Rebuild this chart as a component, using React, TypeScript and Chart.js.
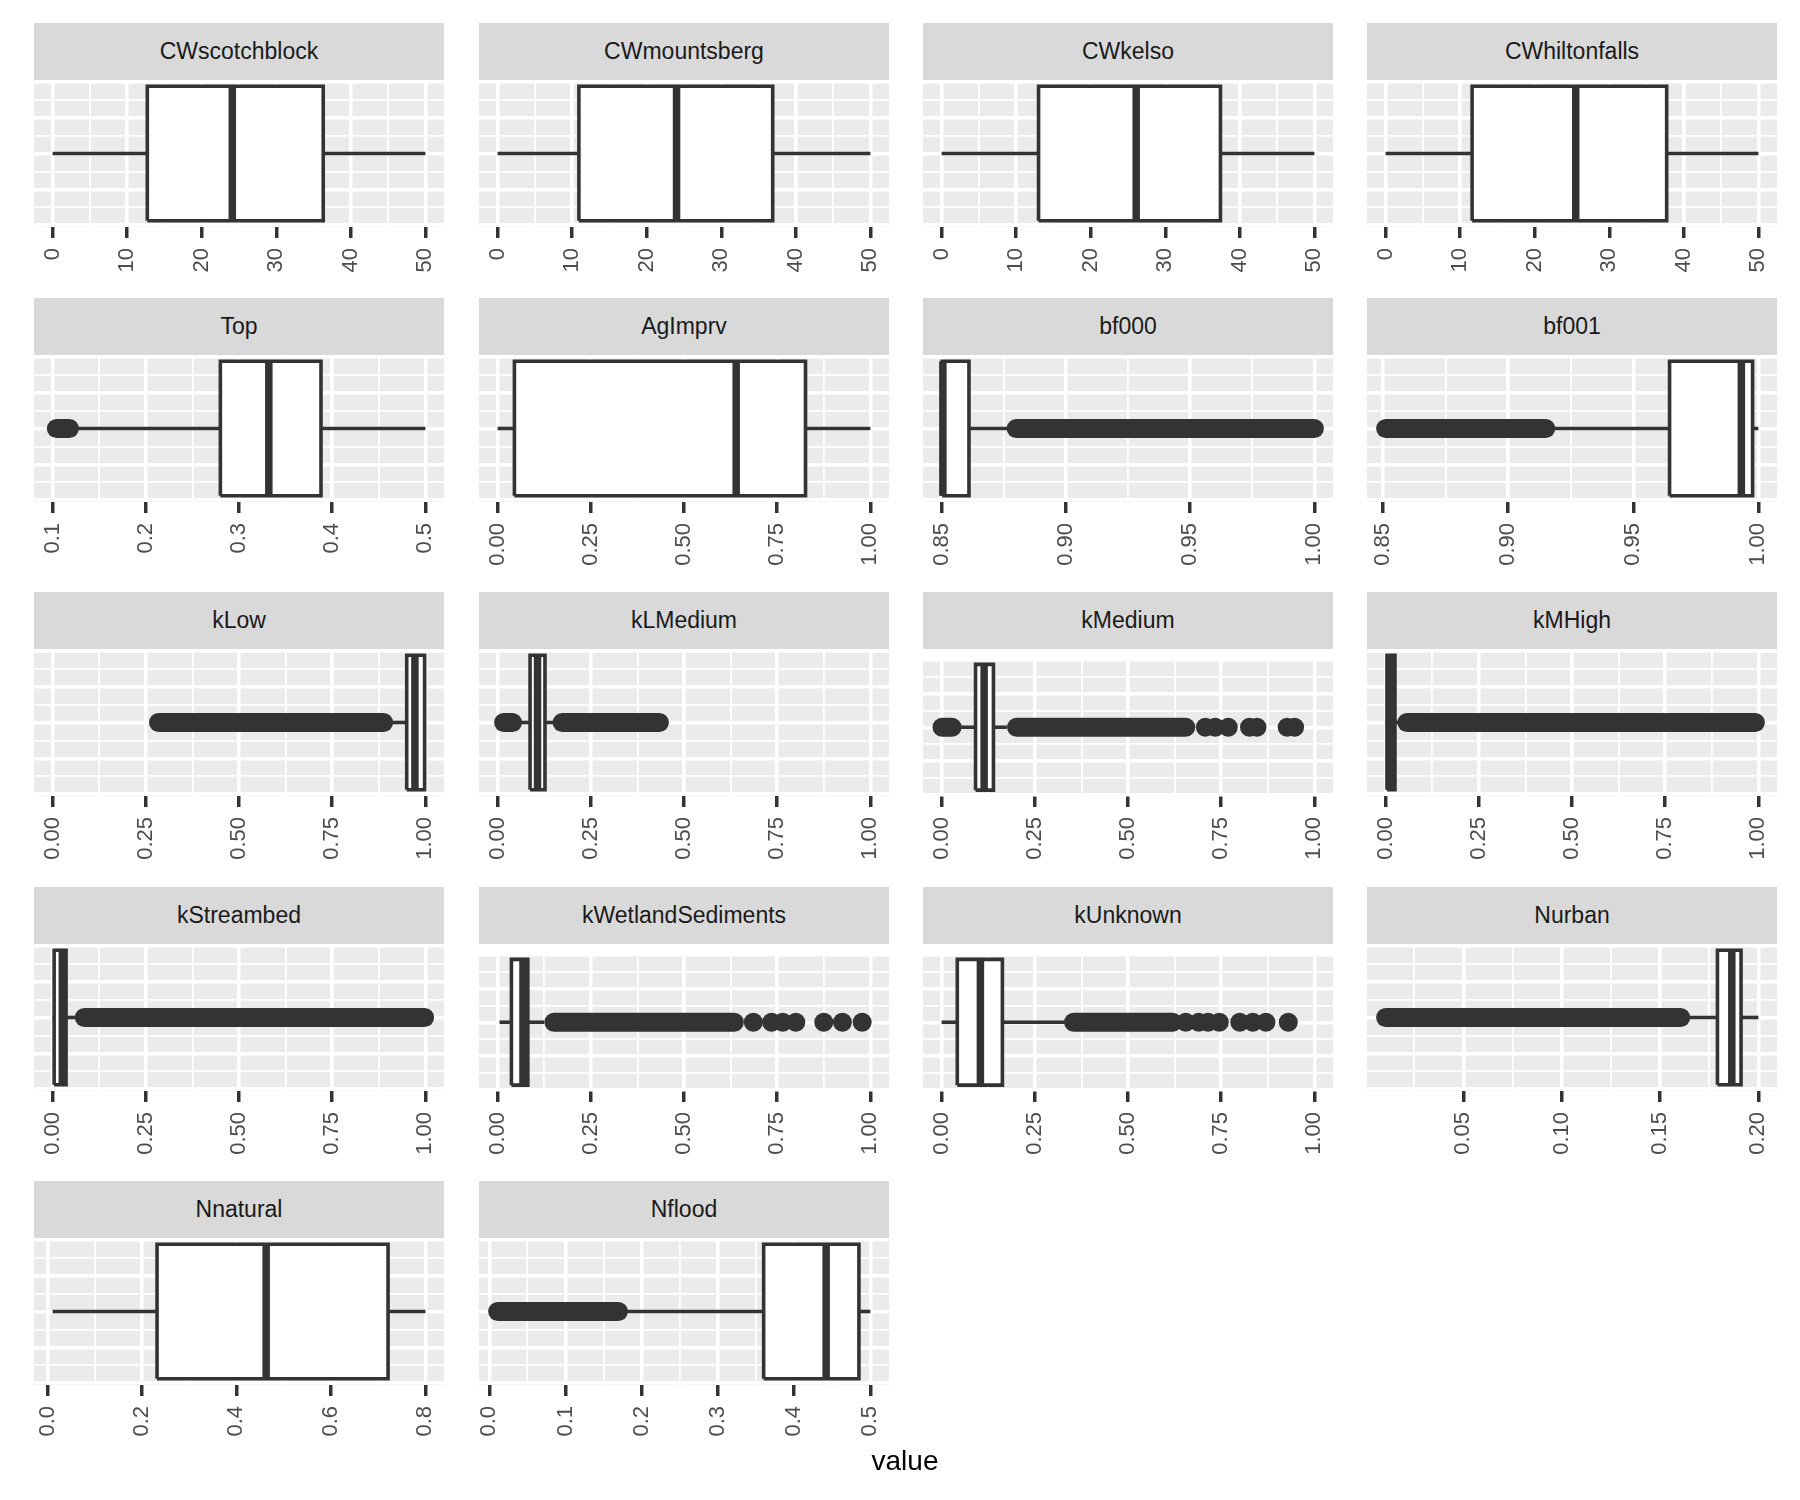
import { useEffect, useRef } from "react";
import { Chart, registerables } from "chart.js";
Chart.register(...registerables);

// ---------- data ----------
const panelNames = [
  "CWscotchblock", "CWmountsberg", "CWkelso", "CWhiltonfalls",
  "Top", "AgImprv", "bf000", "bf001",
  "kLow", "kLMedium", "kMedium", "kMHigh",
  "kStreambed", "kWetlandSediments", "kUnknown", "Nurban",
  "Nnatural", "Nflood",
];

const whiskerLow = [0, 0, 0, 0, 0.12, 0, 0.85, 0.916, 0.89, 0.045, 0.03, 0, 0, 0.005, 0, 0.1615, 0.011, 0.172];
const lowerHinge = [12.7, 10.9, 13.0, 11.6, 0.28, 0.045, 0.8502, 0.9645, 0.95, 0.087, 0.091, 0.0035, 0.004, 0.037, 0.042, 0.1792, 0.232, 0.36];
const medians = [24.1, 24.0, 26.1, 25.5, 0.332, 0.64, 0.8505, 0.9932, 0.972, 0.107, 0.114, 0.013, 0.026, 0.068, 0.104, 0.1865, 0.463, 0.442];
const upperHinge = [36.3, 36.9, 37.4, 37.7, 0.388, 0.826, 0.861, 0.9977, 0.998, 0.127, 0.139, 0.025, 0.036, 0.081, 0.163, 0.1912, 0.721, 0.485];
const whiskerHigh = [50, 50, 50, 50, 0.5, 1, 0.879, 1.0, 1.0, 0.168, 0.175, 0.05, 0.08, 0.125, 0.345, 0.2, 0.8, 0.5];

// dense runs of outliers (from, to) and isolated outliers
const outlierBands: number[][][] = [
  [], [], [], [],
  [[0.104, 0.118]],
  [],
  [[0.88, 1.0]],
  [[0.851, 0.915]],
  [[0.284, 0.888]],
  [[0.016, 0.04], [0.173, 0.434]],
  [[0.001, 0.028], [0.201, 0.655]],
  [[0.057, 0.992]],
  [[0.085, 0.998]],
  [[0.151, 0.635]],
  [[0.354, 0.62]],
  [[0.0105, 0.1605]],
  [],
  [[0.011, 0.1695]],
];
const outlierPoints: number[][] = [
  [], [], [], [], [], [], [], [], [], [],
  [0.7075, 0.734, 0.769, 0.826, 0.846, 0.927, 0.947],
  [], [],
  [0.686, 0.735, 0.765, 0.8, 0.875, 0.925, 0.978],
  [0.655, 0.69, 0.715, 0.745, 0.8, 0.835, 0.87, 0.93],
  [], [], [],
];

const dataRanges: number[][] = [
  [0, 50], [0, 50], [0, 50], [0, 50],
  [0.1, 0.5], [0, 1], [0.85, 1.0], [0.851, 1.0],
  [0, 1], [0, 1], [0, 1], [0, 1],
  [0, 1], [0, 1], [0, 1], [0.0105, 0.2],
  [0.011, 0.8], [0.011, 0.5],
];

const T_CW = ["0", "10", "20", "30", "40", "50"];
const T_UNIT = ["0.00", "0.25", "0.50", "0.75", "1.00"];
const T_BF = ["0.85", "0.90", "0.95", "1.00"];
const tickLabels: string[][] = [
  T_CW, T_CW, T_CW, T_CW,
  ["0.1", "0.2", "0.3", "0.4", "0.5"], T_UNIT, T_BF, T_BF,
  T_UNIT, T_UNIT, T_UNIT, T_UNIT,
  T_UNIT, T_UNIT, T_UNIT, ["0.05", "0.10", "0.15", "0.20"],
  ["0.0", "0.2", "0.4", "0.6", "0.8"], ["0.0", "0.1", "0.2", "0.3", "0.4", "0.5"],
];

const yGridValues = [-0.4, -0.3, -0.2, -0.1, 0, 0.1, 0.2, 0.3, 0.4];

// ---------- layout / style ----------
const COL_LEFT = [34, 479, 923, 1367];
const ROW_STRIP_TOP = [23, 298, 592, 887, 1181];
const PANEL_W = 410;
const STRIP_H = 57;
const PANEL_H = 147;
const AXIS_H = 90;
const PAD = 40;
const FONT = "'Liberation Sans', Arial, Helvetica, sans-serif";
const DARK = "#333333";
const BOX_HALF = 0.375;
const Y_HALF = 0.41;

const panelBg = {
  id: "panelBg",
  beforeDraw(chart: any) {
    const { ctx, chartArea: a } = chart;
    ctx.save();
    ctx.fillStyle = "#ebebeb";
    ctx.fillRect(a.left, a.top, a.right - a.left, a.bottom - a.top);
    ctx.restore();
  },
};

function Panel({ i }: { i: number }) {
  const ref = useRef<HTMLCanvasElement>(null);
  const row = Math.floor(i / 4);
  const col = i % 4;
  const panelTop = ROW_STRIP_TOP[row] + STRIP_H;

  useEffect(() => {
    const [lo, hi] = dataRanges[i];
    const span = hi - lo;
    const xmin = lo - 0.05 * span;
    const xmax = hi + 0.05 * span;
    const labels = tickLabels[i];
    const majors = labels.map(Number);
    const step = majors[1] - majors[0];
    const minors = [majors[0] - step / 2, ...majors.map((m) => m + step / 2)].filter(
      (v) => v > xmin && v < xmax
    );

    const line = (pts: { x: number; y: number }[], extra: any) => ({
      type: "line",
      data: pts,
      borderColor: DARK,
      pointRadius: 0,
      tension: 0,
      fill: false,
      clip: false,
      ...extra,
    });

    const datasets: any[] = [];
    datasets.push(
      line(
        [
          { x: medians[i], y: -BOX_HALF },
          { x: medians[i], y: BOX_HALF },
        ],
        { borderWidth: 7.5, order: 0 }
      )
    );
    datasets.push(
      line(
        [
          { x: lowerHinge[i], y: -BOX_HALF },
          { x: upperHinge[i], y: -BOX_HALF },
          { x: upperHinge[i], y: BOX_HALF },
          { x: lowerHinge[i], y: BOX_HALF },
          { x: lowerHinge[i], y: -BOX_HALF },
        ],
        { borderWidth: 3.6, fill: "shape", backgroundColor: "#ffffff", borderJoinStyle: "miter", order: 1 }
      )
    );
    datasets.push(
      line(
        [
          { x: whiskerLow[i], y: 0 },
          { x: lowerHinge[i], y: 0 },
        ],
        { borderWidth: 3.6, order: 2 }
      )
    );
    datasets.push(
      line(
        [
          { x: upperHinge[i], y: 0 },
          { x: whiskerHigh[i], y: 0 },
        ],
        { borderWidth: 3.6, order: 2 }
      )
    );
    outlierBands[i].forEach(([a, b]) => {
      datasets.push(
        line(
          [
            { x: a, y: 0 },
            { x: b, y: 0 },
          ],
          { borderWidth: 19, borderCapStyle: "round", order: 3 }
        )
      );
    });
    if (outlierPoints[i].length) {
      datasets.push({
        type: "scatter",
        data: outlierPoints[i].map((v) => ({ x: v, y: 0 })),
        pointRadius: 9.5,
        pointBackgroundColor: DARK,
        pointBorderWidth: 0,
        clip: false,
        order: 3,
      });
    }

    const chart = new Chart(ref.current as HTMLCanvasElement, {
      type: "scatter",
      data: { datasets },
      plugins: [panelBg],
      options: {
        animation: false,
        responsive: false,
        events: [],
        layout: { padding: { left: PAD, right: PAD, top: 0, bottom: 0 } },
        plugins: { legend: { display: false }, tooltip: { enabled: false }, title: { display: false } },
        scales: {
          x: {
            type: "linear",
            min: xmin,
            max: xmax,
            afterBuildTicks: (s: any) => {
              s.ticks = [
                ...majors.map((v) => ({ value: v, minor: false })),
                ...minors.map((v) => ({ value: v, minor: true })),
              ].sort((a, b) => a.value - b.value);
            },
            afterFit: (s: any) => {
              s.height = AXIS_H;
            },
            ticks: {
              autoSkip: false,
              minRotation: 90,
              maxRotation: 90,
              padding: 10,
              color: "#4d4d4d",
              font: { family: FONT, size: 22 },
              callback: (v: any, idx: number, ticks: any[]) => {
                if (ticks[idx] && ticks[idx].minor) return "";
                const k = majors.findIndex((m) => Math.abs(m - Number(v)) < 1e-9);
                return k >= 0 ? labels[k] : "";
              },
            },
            grid: {
              color: "#ffffff",
              lineWidth: (c: any) => (c.tick && c.tick.minor ? 1.8 : 3.5),
              tickColor: (c: any) => (c.tick && c.tick.minor ? "rgba(0,0,0,0)" : DARK),
              tickWidth: 3.5,
              tickLength: 11,
              drawTicks: true,
            },
            border: { display: false },
          },
          y: {
            type: "linear",
            min: -Y_HALF,
            max: Y_HALF,
            afterBuildTicks: (s: any) => {
              s.ticks = yGridValues.map((v) => ({ value: v }));
            },
            afterFit: (s: any) => {
              s.width = 0;
            },
            ticks: { display: false },
            grid: {
              color: "#ffffff",
              lineWidth: (c: any) =>
                c.tick && Math.abs(Math.round(c.tick.value * 10)) % 2 === 0 ? 3.5 : 1.8,
              drawTicks: false,
            },
            border: { display: false },
          },
        },
      } as any,
    } as any);
    return () => chart.destroy();
  }, [i]);

  return (
    <>
      <div
        style={{
          position: "absolute",
          left: COL_LEFT[col],
          top: ROW_STRIP_TOP[row],
          width: PANEL_W,
          height: STRIP_H,
          background: "#d9d9d9",
          color: "#1a1a1a",
          fontFamily: FONT,
          fontSize: 23,
          lineHeight: `${STRIP_H}px`,
          textAlign: "center",
          whiteSpace: "nowrap",
        }}
      >
        {panelNames[i]}
      </div>
      <canvas
        ref={ref}
        width={PANEL_W + 2 * PAD}
        height={PANEL_H + AXIS_H}
        style={{
          position: "absolute",
          left: COL_LEFT[col] - PAD,
          top: panelTop,
          width: PANEL_W + 2 * PAD,
          height: PANEL_H + AXIS_H,
        }}
      />
    </>
  );
}

export default function App() {
  return (
    <div
      style={{
        position: "absolute",
        left: 0,
        top: 0,
        width: 1800,
        height: 1500,
        background: "#ffffff",
        overflow: "hidden",
      }}
    >
      {panelNames.map((_, i) => (
        <Panel key={i} i={i} />
      ))}
      <div
        style={{
          position: "absolute",
          left: 0,
          width: 1810,
          top: 1447,
          textAlign: "center",
          fontFamily: FONT,
          fontSize: 28,
          lineHeight: "28px",
          color: "#000000",
        }}
      >
        value
      </div>
    </div>
  );
}
